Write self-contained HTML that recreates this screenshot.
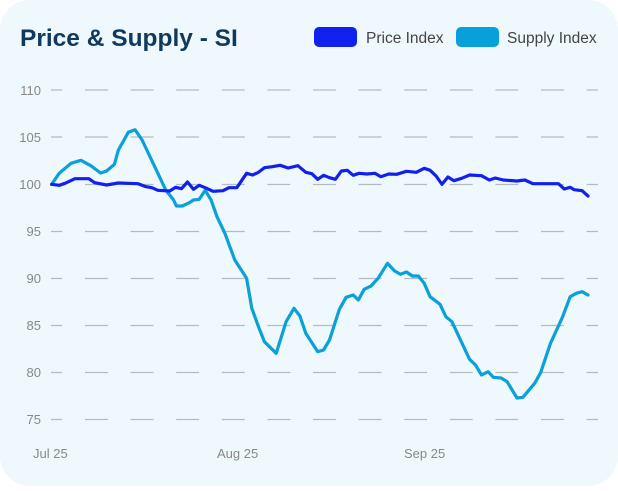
<!DOCTYPE html>
<html><head><meta charset="utf-8"><style>
html,body{margin:0;padding:0;background:#fff;}
body{width:618px;height:486px;overflow:hidden;}
</style></head><body>
<svg width="618" height="486" xmlns="http://www.w3.org/2000/svg" font-family="Liberation Sans, sans-serif">
<rect x="0" y="0" width="618" height="486" rx="30" fill="#eef8fd"/>
<text x="20" y="46" font-size="24.5" font-weight="bold" fill="#0f3a5e">Price &amp; Supply - SI</text>
<rect x="314" y="27" width="43" height="20" rx="5" fill="#1020ee"/>
<text x="366" y="43" font-size="15.5" fill="#444">Price Index</text>
<rect x="456" y="27" width="43" height="20" rx="5" fill="#08a0d8"/>
<text x="507" y="43" font-size="15.5" fill="#444">Supply Index</text>
<g stroke="#b4bcc2" stroke-width="1.3" stroke-dasharray="22.9 22.7" stroke-dashoffset="11.6">
<line x1="51" x2="598" y1="90" y2="90"/>
<line x1="51" x2="598" y1="137" y2="137"/>
<line x1="51" x2="598" y1="184.5" y2="184.5"/>
<line x1="51" x2="598" y1="231.5" y2="231.5"/>
<line x1="51" x2="598" y1="278.5" y2="278.5"/>
<line x1="51" x2="598" y1="325.5" y2="325.5"/>
<line x1="51" x2="598" y1="372.5" y2="372.5"/>
<line x1="51" x2="598" y1="419.5" y2="419.5"/>
</g>
<g font-size="13" fill="#888" text-anchor="end">
<text x="41" y="95">110</text><text x="41" y="142">105</text><text x="41" y="189">100</text>
<text x="41" y="236">95</text><text x="41" y="283">90</text><text x="41" y="330">85</text>
<text x="41" y="377">80</text><text x="41" y="424">75</text>
</g>
<g font-size="13" fill="#888">
<text x="33" y="458">Jul 25</text><text x="217" y="458">Aug 25</text><text x="404" y="458">Sep 25</text>
</g>
<polyline id="s" fill="none" stroke="#0aa0d8" stroke-width="3.2" stroke-linejoin="round" stroke-linecap="round"/>
<polyline id="p" fill="none" stroke="#1020ee" stroke-width="3.2" stroke-linejoin="round" stroke-linecap="round"/>
</svg>
<script>
var P=[131,553,150,556,165,550,190,536,225,536,240,548,270,555,300,549,350,551,370,560,385,563,400,571,430,573,445,562,460,566,475,546,490,568,505,556,520,563,540,574,565,572,580,563,600,563,625,520,640,525,655,517,670,503,690,500,710,496,730,504,755,497,775,517,790,521,805,538,820,526,835,533,850,538,865,513,880,511,895,526,910,520,930,522,950,520,965,530,985,522,1005,523,1030,514,1055,517,1075,505,1090,511,1105,528,1120,553,1135,531,1150,542,1170,535,1190,525,1220,527,1240,540,1255,534,1275,540,1310,543,1330,540,1350,551,1415,551,1430,567,1445,562,1455,569,1475,572,1490,588];
var A=[131,553,150,520,180,490,205,481,230,497,255,519,270,513,290,493,300,450,325,397,342,389,360,420,380,470,400,520,420,570];
var B=[440,0,447,18,462,18,480,8,490,0,505,-2,520,-29,535,0,550,50,570,100,595,180,625,235,638,325,655,380,670,425,700,460,725,365,745,325,760,348,775,400,805,455,820,450,835,420,860,328,877,292,895,285,908,300,923,268,940,258,958,235,982,190,1000,213,1015,223,1030,216,1045,228,1060,228,1075,250,1090,290,1115,313,1130,350,1145,365,1190,478,1205,495,1220,525,1237,515,1250,532,1270,534,1285,545,1310,594,1325,592,1355,550,1370,518,1395,430,1425,352,1445,290,1460,280,1475,275,1490,285];
var K=2.534;
function f(a,oy){var r=[];for(var i=0;i<a.length;i+=2)r.push((a[i]/K).toFixed(1)+','+(a[i+1]/3+oy).toFixed(1));return r;}
document.getElementById('p').setAttribute('points',f(P,0).join(' '));
document.getElementById('s').setAttribute('points',f(A,0).concat(f(B,200)).join(' '));
</script>
</body></html>
